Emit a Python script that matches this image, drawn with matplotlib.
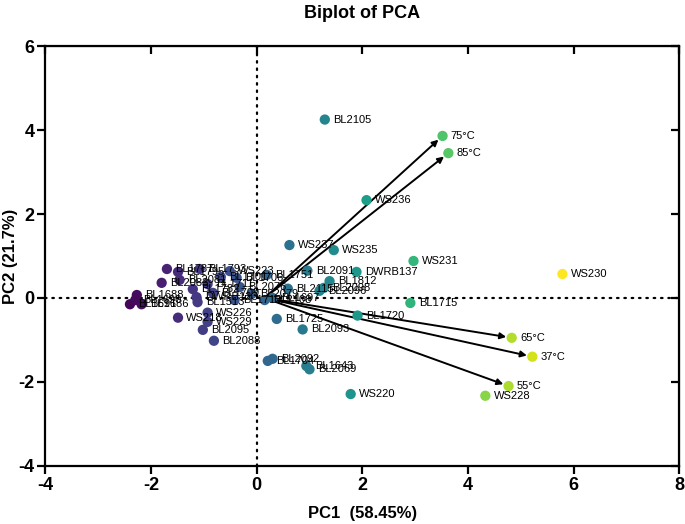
import matplotlib
matplotlib.use('Agg')

import matplotlib.pyplot as plt
import numpy as np

plt.rcParams['font.family'] = ['Liberation Sans', 'DejaVu Sans']
plt.rcParams['axes.unicode_minus'] = False

# sample / variable names with PC scores
names = ['BL2105', '75°C', '85°C', 'WS236', 'WS237', 'WS235', 'WS231', 'WS230',
         'BL2091', 'DWRB137', 'BL1812', 'BL2098', 'BL2096', 'BL2115', 'BL1715',
         'BL1720', 'BL1725', 'BL2093', '65°C', '37°C', '55°C', 'WS228', 'BL2092',
         'BL1704', 'BL1643', 'BL2069', 'WS220',
         'BL1751', 'BL2108', 'BL1697', 'BL2079', 'BL2076', 'BL1713', 'WS223',
         'BL1706', 'BL1701',
         'BL1787', 'BL1795', 'BL2083', 'BL2081', 'BL1782', 'BL1793', 'BL1711',
         'DWRB123', 'BL1709', 'BL1513', 'BL1691', 'BL1688', 'BL1686', 'BL1690',
         'WS218', 'WS226', 'WS229', 'BL2095', 'BL2088']
pc1 = [1.29, 3.52, 3.63, 2.08, 0.62, 1.46, 2.97, 5.79,
       0.96, 1.89, 1.38, 1.27, 1.19, 0.59, 2.91,
       1.91, 0.38, 0.87, 4.83, 5.22, 4.77, 4.33, 0.30,
       0.21, 0.94, 1.00, 1.78,
       0.19, 0.15, 0.30, -0.09, -0.32, -0.42, -0.51,
       -0.38, -0.68,
       -1.70, -1.49, -1.80, -1.46, -1.21, -1.08, -0.93,
       -1.14, -0.83, -1.12, -2.40, -2.27, -2.18, -2.30,
       -1.49, -0.93, -0.93, -1.02, -0.81]
pc2 = [4.25, 3.86, 3.45, 2.33, 1.26, 1.14, 0.88, 0.57,
       0.65, 0.62, 0.40, 0.24, 0.17, 0.22, -0.12,
       -0.42, -0.50, -0.75, -0.95, -1.40, -2.10, -2.33, -1.45,
       -1.50, -1.62, -1.70, -2.29,
       0.55, -0.05, 0.00, 0.10, 0.26, -0.05, 0.64,
       0.48, 0.50,
       0.69, 0.62, 0.36, 0.43, 0.21, 0.69, 0.33,
       0.02, 0.12, -0.10, -0.15, 0.07, -0.15, -0.05,
       -0.47, -0.35, -0.57, -0.76, -1.02]

# loading arrows (temperature variables)
arrow_names = ['75°C', '85°C', '65°C', '37°C', '55°C']

fig = plt.figure(figsize=(6.85, 5.24), dpi=100)
ax = fig.add_axes([0.0664, 0.111, 0.925, 0.801])

ax.axhline(0, color='black', lw=1.6, ls=(0, (0.7, 2.6)), dash_capstyle='round', zorder=1)
ax.axvline(0, color='black', lw=1.6, ls=(0, (0.7, 2.6)), dash_capstyle='round', zorder=1)

ax.scatter(pc1, pc2, c=pc1, cmap='viridis', vmin=-2.5, vmax=5.8, s=55,
           edgecolors='none', zorder=3)

for n, x, y in zip(names, pc1, pc2):
    ax.annotate(n, (x, y), xytext=(6, 0), textcoords='offset points',
                va='center', ha='left', fontsize=8, zorder=4)

for n in arrow_names:
    i = names.index(n)
    ax.annotate('', xy=(pc1[i], pc2[i]), xytext=(0.15, 0.0),
                arrowprops=dict(arrowstyle='-|>', color='black', lw=1.4,
                                mutation_scale=9, shrinkA=0, shrinkB=4),
                zorder=2)

ax.set_xlim(-4, 8)
ax.set_ylim(-4, 6)
ax.set_xticks(np.arange(-4, 9, 2))
ax.set_yticks(np.arange(-4, 7, 2))

for s in ax.spines.values():
    s.set_linewidth(1.6)
ax.tick_params(direction='out', length=6, width=1.6, labelsize=13, pad=2)
for lab in ax.get_xticklabels() + ax.get_yticklabels():
    lab.set_fontweight('bold')

top = ax.secondary_xaxis('top')
top.set_xticks(np.arange(-4, 9, 2))
top.tick_params(direction='in', length=6, width=1.6, labeltop=False)
right = ax.secondary_yaxis('right')
right.set_yticks(np.arange(-4, 7, 2))
right.tick_params(direction='in', length=6, width=1.6, labelright=False)

ax.set_xlabel('PC1  (58.45%)', fontsize=12, fontweight='bold')
ax.xaxis.set_label_coords(0.5, -0.095)
ax.set_ylabel('PC2 (21.7%)', fontsize=12, fontweight='bold')
ax.yaxis.set_label_coords(-0.043, 0.5)
ax.set_title('Biplot of PCA', fontsize=13, fontweight='bold', pad=20)

fig.savefig('out.png', dpi=100)
